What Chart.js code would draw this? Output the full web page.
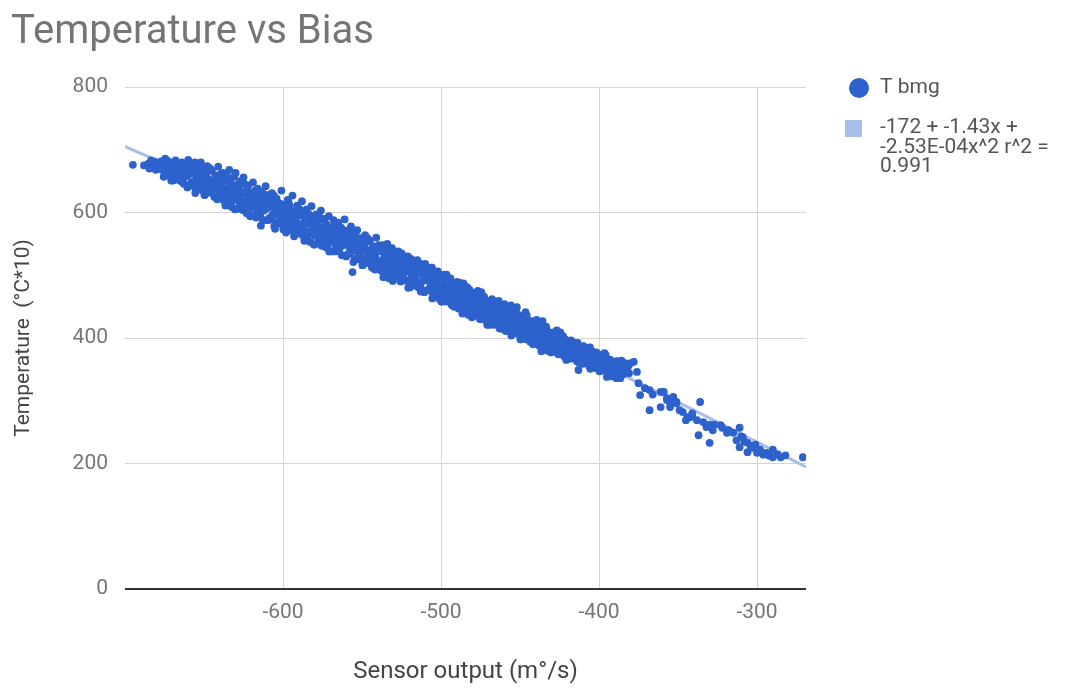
<!DOCTYPE html>
<html>
<head>
<meta charset="utf-8">
<title>Temperature vs Bias</title>
<script src="https://cdn.jsdelivr.net/npm/chart.js@4.4.1/dist/chart.umd.min.js"></script>
<style>
  html, body { margin: 0; padding: 0; background: #fff; }
  #wrap { width: 1088px; height: 688px; }
</style>
</head>
<body>
<div id="wrap"><canvas id="chart" width="1088" height="688"></canvas></div>
<script>
const chartTitle = "Temperature vs Bias";
const xAxisTitle = "Sensor output (m°/s)";
const yAxisTitle = "Temperature  (°C*10)";
const xTicks = [-600, -500, -400, -300];
const yTicks = [0, 200, 400, 600, 800];
const xMin = -700;
const xMax = -269;

const seriesName = "T bmg";
// polynomial fit: c0 + c1*x + c2*x^2
const trendCoef = [-172, -1.43, -2.53e-4];
const trendLabel = ["-172 + -1.43x +", "-2.53E-04x^2 r^2 =", "0.991"];

// sensor output (m°/s), temperature (°C*10)
const bmgPoints = [
  [-695,676],[-688,675],[-685,678],[-683,674],[-681,680],[-680,672],[-678,677],[-677,669],[-675,681],[-674,674],
  [-673,666],[-671,679],[-670,670],[-669,660],[-668,683],[-667,675],[-666,652],[-665,664],[-664,680],[-663,647],
  [-662,671],[-661,658],[-660,684],[-659,666],[-658,648],[-657,676],[-656,641],[-655,660],[-654,671],[-653,650],
  [-652,680],[-651,638],[-650,663],[-649,655],[-648,674],[-647,644],[-646,632],[-645,667],[-644,650],[-643,659],
  [-642,639],[-641,673],[-640,628],[-639,646],[-638,663],[-637,619],[-636,652],[-635,636],[-634,668],[-633,612],
  [-632,644],[-631,657],[-630,663],[-630,626],[-629,606],[-628,638],[-627,650],[-626,617],[-625,656],[-624,631],
  [-623,599],[-622,643],[-621,620],[-620,609],[-619,648],[-618,627],[-617,592],[-616,638],[-615,614],[-614,579],
  [-613,631],[-612,603],[-611,642],[-610,620],[-609,588],[-608,610],[-607,631],[-606,597],[-605,574],[-604,622],
  [-603,604],[-602,587],[-601,635],[-600,612],[-599,594],[-598,568],[-597,620],[-596,581],[-595,603],[-594,627],
  [-593,562],[-592,591],[-591,611],[-590,575],[-589,600],[-588,618],[-587,584],[-586,556],[-585,605],[-584,566],
  [-583,592],[-582,610],[-581,576],[-580,549],[-579,597],[-578,583],[-577,560],[-576,603],[-575,570],[-574,589],
  [-573,545],[-572,579],[-571,594],[-570,556],[-569,574],[-568,588],[-567,538],[-566,565],[-565,584],[-564,550],
  [-563,575],[-562,560],[-561,589],[-560,530],[-559,566],[-558,545],[-557,578],[-556,505],[-556,556],[-555,540],
  [-554,569],[-553,572],[-552,533],[-551,559],[-550,548],[-549,521],[-548,564],[-547,540],[-546,529],[-545,555],
  [-544,514],[-543,546],[-542,533],[-541,560],[-540,520],[-539,541],[-538,508],[-537,548],[-536,528],[-535,515],
  [-534,550],[-533,536],[-532,503],[-531,543],[-530,521],[-529,532],[-528,498],[-527,538],[-526,512],[-525,535],
  [-524,526],[-523,492],[-522,518],[-521,530],[-520,505],[-519,526],[-518,486],[-517,515],[-516,498],[-515,524],
  [-514,507],[-513,481],[-512,513],[-511,494],[-510,518],[-509,476],[-508,502],[-507,489],[-506,512],[-505,470],
  [-504,496],[-503,483],[-502,506],[-501,462],[-500,490],[-499,476],[-498,501],[-497,458],[-496,484],[-495,469],
  [-494,495],[-493,452],[-492,478],[-491,464],[-490,489],[-489,447],[-488,488],[-487,472],[-486,458],[-485,480],
  [-484,441],[-483,466],[-482,477],[-481,451],[-480,462],[-479,436],[-478,470],[-477,447],[-476,457],[-475,430],
  [-474,468],[-473,441],[-472,452],[-471,426],[-470,459],[-469,437],[-468,447],[-467,421],[-466,455],[-465,432],
  [-464,442],[-463,416],[-462,449],[-461,427],[-460,437],[-459,411],[-458,443],[-457,422],[-456,432],[-455,407],
  [-454,438],[-453,417],[-452,449],[-451,426],[-450,403],[-449,433],[-448,412],[-447,420],[-446,398],[-445,428],
  [-444,407],[-443,415],[-442,393],[-441,423],[-440,402],[-439,410],[-438,388],[-437,418],[-436,397],[-435,405],
  [-434,384],[-433,412],[-432,392],[-431,400],[-430,379],[-429,407],[-428,388],[-427,395],[-426,375],[-425,402],
  [-424,383],[-423,390],[-422,371],[-421,397],[-420,378],[-419,386],[-418,367],[-417,392],[-416,374],[-415,381],
  [-414,363],[-413,349],[-413,387],[-412,370],[-411,376],[-410,359],[-409,382],[-408,365],[-407,372],[-406,355],
  [-405,378],[-404,361],[-403,368],[-402,352],[-401,374],[-400,357],[-399,364],[-398,348],[-397,370],[-396,353],
  [-395,338],[-395,360],[-394,366],[-393,349],[-392,356],[-391,362],[-390,345],[-389,336],[-389,352],[-388,358],
  [-387,347],[-386,354],[-385,342],[-384,357],[-383,350],[-381,344],[-380,360],[-378,362],[-376,346],[-375,328],
  [-374,309],[-371,320],[-368,317],[-368,285],[-366,310],[-361,314],[-361,290],[-359,314],[-357,304],[-357,301],
  [-355,296],[-355,290],[-353,306],[-353,301],[-351,298],[-351,296],[-349,285],[-347,282],[-345,269],[-344,274],
  [-342,274],[-341,277],[-341,280],[-338,269],[-337,245],[-336,298],[-334,266],[-332,258],[-330,233],[-330,262],
  [-328,253],[-327,262],[-323,261],[-322,257],[-319,249],[-318,253],[-315,249],[-313,237],[-311,257],[-311,226],
  [-310,243],[-309,242],[-308,235],[-306,233],[-306,218],[-304,228],[-303,225],[-301,230],[-300,217],[-298,222],
  [-296,214],[-294,217],[-292,212],[-290,222],[-290,210],[-287,215],[-285,210],[-282,213],[-271,210],
  [-685.5,677],[-684.5,670],[-683.5,683],[-682.5,674],[-681.5,681],[-680.5,668],[-679.5,674],[-678.5,680],[-677.5,670],[-676.5,677],
  [-675.5,657],[-674.5,686],[-673.5,668],[-672.5,679],[-671.5,658],[-670.5,671],[-669.5,651],[-668.5,673],[-667.5,665],[-666.5,657],
  [-665.5,675],[-664.5,650],[-663.5,677],[-662.5,657],[-661.5,666],[-660.5,640],[-659.5,661],[-658.5,674],[-657.5,644],[-656.5,662],
  [-655.5,631],[-654.5,673],[-653.5,650],[-652.5,663],[-651.5,636],[-650.5,655],[-649.5,628],[-648.5,665],[-647.5,639],[-646.5,671],
  [-645.5,632],[-644.5,647],[-643.5,625],[-642.5,651],[-641.5,641],[-640.5,630],[-639.5,661],[-638.5,631],[-637.5,651],[-636.5,611],
  [-635.5,639],[-634.5,617],[-633.5,653],[-632.5,625],[-631.5,643],[-630.5,605],[-629.5,627],[-628.5,645],[-627.5,615],[-626.5,633],
  [-625.5,604],[-624.5,646],[-623.5,618],[-622.5,635],[-621.5,605],[-620.5,624],[-619.5,595],[-618.5,627],[-617.5,616],[-616.5,604],
  [-615.5,631],[-614.5,595],[-613.5,633],[-612.5,604],[-611.5,618],[-610.5,588],[-609.5,608],[-608.5,620],[-607.5,591],[-606.5,609],
  [-605.5,578],[-604.5,620],[-603.5,597],[-602.5,610],[-601.5,582],[-600.5,600],[-599.5,573],[-598.5,610],[-597.5,584],[-596.5,616],
  [-595.5,577],[-594.5,592],[-593.5,570],[-592.5,595],[-591.5,585],[-590.5,574],[-589.5,605],[-588.5,575],[-587.5,595],[-586.5,555],
  [-585.5,582],[-584.5,560],[-583.5,597],[-582.5,569],[-581.5,587],[-580.5,549],[-579.5,571],[-578.5,589],[-577.5,558],[-576.5,576],
  [-575.5,547],[-574.5,590],[-573.5,562],[-572.5,579],[-571.5,549],[-570.5,567],[-569.5,538],[-568.5,570],[-567.5,559],[-566.5,548],
  [-565.5,575],[-564.5,539],[-563.5,576],[-562.5,547],[-561.5,561],[-560.5,531],[-559.5,551],[-558.5,564],[-557.5,535],[-556.5,552],
  [-555.5,521],[-554.5,563],[-553.5,540],[-552.5,553],[-551.5,525],[-550.5,544],[-549.5,516],[-548.5,553],[-547.5,527],[-546.5,559],
  [-545.5,520],[-544.5,535],[-543.5,512],[-542.5,538],[-541.5,528],[-540.5,517],[-539.5,548],[-538.5,518],[-537.5,538],[-536.5,497],
  [-535.5,525],[-534.5,503],[-533.5,540],[-532.5,512],[-531.5,530],[-530.5,491],[-529.5,513],[-528.5,531],[-527.5,501],[-526.5,519],
  [-525.5,490],[-524.5,532],[-523.5,504],[-522.5,521],[-521.5,491],[-520.5,510],[-519.5,481],[-518.5,512],[-517.5,501],[-516.5,490],
  [-515.5,517],[-514.5,481],[-513.5,519],[-512.5,489],[-511.5,503],[-510.5,473],[-509.5,493],[-508.5,506],[-507.5,477],[-506.5,494],
  [-505.5,463],[-504.5,505],[-503.5,482],[-502.5,495],[-501.5,466],[-500.5,485],[-499.5,458],[-498.5,495],[-497.5,469],[-496.5,501],
  [-495.5,461],[-494.5,476],[-493.5,454],[-492.5,480],[-491.5,470],[-490.5,459],[-489.5,489],[-488.5,459],[-487.5,479],[-486.5,439],
  [-485.5,467],[-484.5,444],[-483.5,481],[-482.5,453],[-481.5,471],[-480.5,433],[-479.5,454],[-478.5,472],[-477.5,442],[-476.5,460],
  [-475.5,431],[-474.5,473],[-473.5,445],[-472.5,462],[-471.5,432],[-470.5,451],[-469.5,421],[-468.5,453],[-467.5,442],[-466.5,431],
  [-465.5,458],[-464.5,421],[-463.5,459],[-462.5,430],[-461.5,444],[-460.5,414],[-459.5,433],[-458.5,446],[-457.5,417],[-456.5,435],
  [-455.5,404],[-454.5,445],[-453.5,422],[-452.5,435],[-451.5,407],[-450.5,426],[-449.5,398],[-448.5,435],[-447.5,409],[-446.5,441],
  [-445.5,402],[-444.5,416],[-443.5,394],[-442.5,420],[-441.5,410],[-440.5,399],[-439.5,429],[-438.5,399],[-437.5,419],[-436.5,379],
  [-435.5,407],[-434.5,387],[-433.5,418],[-432.5,394],[-431.5,409],[-430.5,377],[-429.5,394],[-428.5,409],[-427.5,384],[-426.5,399],
  [-425.5,374],[-424.5,409],[-423.5,385],[-422.5,400],[-421.5,374],[-420.5,390],[-419.5,368],[-418.5,390],[-417.5,382],[-416.5,374],
  [-415.5,392],[-414.5,366],[-413.5,392],[-412.5,371],[-411.5,381],[-410.5,360],[-409.5,372],[-408.5,381],[-407.5,361],[-406.5,373],
  [-405.5,351],[-404.5,379],[-403.5,363],[-402.5,371],[-401.5,352],[-400.5,367],[-399.5,347],[-398.5,373],[-397.5,354],[-396.5,376],
  [-395.5,349],[-394.5,358],[-393.5,342],[-392.5,360],[-391.5,353],[-390.5,347],[-389.5,362],[-388.5,346],[-387.5,356],[-386.5,336],
  [-385.5,349],[-384.5,352],[-383.5,360],[-382.5,348],[-381.5,355],
  [-679.75,672],[-678.75,679],[-677.75,673],[-676.75,682],[-675.75,667],[-674.75,676],[-673.75,661],[-672.75,682],[-671.75,669],[-670.75,651],
  [-669.75,674],[-668.75,662],[-667.75,679],[-666.75,653],[-665.75,666],[-664.75,654],[-663.75,672],[-662.75,646],[-661.75,666],[-660.75,659],
  [-659.75,681],[-658.75,644],[-657.75,669],[-656.75,649],[-655.75,680],[-654.75,637],[-653.75,657],[-652.75,641],[-651.75,669],[-650.75,647],
  [-649.75,628],[-648.75,662],[-647.75,654],[-646.75,632],[-645.75,667],[-644.75,635],[-643.75,643],[-642.75,657],[-641.75,621],[-640.75,650],
  [-639.75,635],[-638.75,658],[-637.75,620],[-636.75,638],[-635.75,659],[-634.75,626],[-633.75,641],[-632.75,609],[-631.75,636],[-630.75,627],
  [-629.75,620],[-628.75,641],[-627.75,624],[-626.75,648],[-625.75,605],[-624.75,630],[-623.75,609],[-622.75,639],[-621.75,621],[-620.75,594],
  [-619.75,628],[-618.75,610],[-617.75,635],[-616.75,598],[-615.75,617],[-614.75,601],[-613.75,627],[-612.75,588],[-611.75,617],[-610.75,606],
  [-609.75,628],[-608.75,591],[-607.75,616],[-606.75,596],[-605.75,627],[-604.75,583],[-603.75,602],[-602.75,586],[-601.75,614],[-600.75,592],
  [-599.75,573],[-598.75,607],[-597.75,599],[-596.75,577],[-595.75,611],[-594.75,579],[-593.75,588],[-592.75,602],[-591.75,566],[-590.75,595],
  [-589.75,579],[-588.75,601],[-587.75,564],[-586.75,582],[-585.75,603],[-584.75,570],[-583.75,585],[-582.75,553],[-581.75,580],[-580.75,570],
  [-579.75,563],[-578.75,585],[-577.75,568],[-576.75,592],[-575.75,549],[-574.75,574],[-573.75,552],[-572.75,582],[-571.75,564],[-570.75,538],
  [-569.75,572],[-568.75,554],[-567.75,579],[-566.75,541],[-565.75,560],[-564.75,544],[-563.75,570],[-562.75,532],[-561.75,561],[-560.75,550],
  [-559.75,571],[-558.75,534],[-557.75,559],[-556.75,539],[-555.75,570],[-554.75,526],[-553.75,546],[-552.75,529],[-551.75,557],[-550.75,535],
  [-549.75,516],[-548.75,550],[-547.75,542],[-546.75,520],[-545.75,554],[-544.75,522],[-543.75,531],[-542.75,545],[-541.75,509],[-540.75,538],
  [-539.75,521],[-538.75,544],[-537.75,507],[-536.75,525],[-535.75,546],[-534.75,513],[-533.75,527],[-532.75,495],[-531.75,522],[-530.75,513],
  [-529.75,506],[-528.75,528],[-527.75,510],[-526.75,534],[-525.75,491],[-524.75,516],[-523.75,495],[-522.75,525],[-521.75,507],[-520.75,480],
  [-519.75,514],[-518.75,496],[-517.75,521],[-516.75,484],[-515.75,503],[-514.75,486],[-513.75,512],[-512.75,474],[-511.75,503],[-510.75,492],
  [-509.75,514],[-508.75,476],[-507.75,501],[-506.75,481],[-505.75,512],[-504.75,468],[-503.75,488],[-502.75,471],[-501.75,499],[-500.75,477],
  [-499.75,458],[-498.75,492],[-497.75,483],[-496.75,461],[-495.75,496],[-494.75,464],[-493.75,473],[-492.75,487],[-491.75,450],[-490.75,479],
  [-489.75,463],[-488.75,486],[-487.75,449],[-486.75,466],[-485.75,487],[-484.75,454],[-483.75,469],[-482.75,437],[-481.75,463],[-480.75,454],
  [-479.75,447],[-478.75,469],[-477.75,452],[-476.75,475],[-475.75,432],[-474.75,457],[-473.75,436],[-472.75,466],[-471.75,447],[-470.75,421],
  [-469.75,455],[-468.75,437],[-467.75,462],[-466.75,424],[-465.75,443],[-464.75,427],[-463.75,453],[-462.75,415],[-461.75,443],[-460.75,432],
  [-459.75,454],[-458.75,417],[-457.75,442],[-456.75,421],[-455.75,452],[-454.75,408],[-453.75,428],[-452.75,412],[-451.75,439],[-450.75,417],
  [-449.75,398],[-448.75,432],[-447.75,424],[-446.75,401],[-445.75,436],[-444.75,404],[-443.75,413],[-442.75,427],[-441.75,390],[-440.75,419],
  [-439.75,403],[-438.75,426],[-437.75,389],[-436.75,406],[-435.75,427],[-434.75,395],[-433.75,408],[-432.75,380],[-431.75,402],[-430.75,394],
  [-429.75,388],[-428.75,407],[-427.75,392],[-426.75,412],[-425.75,375],[-424.75,396],[-423.75,378],[-422.75,403],[-421.75,387],[-420.75,365],
  [-419.75,392],[-418.75,379],[-417.75,396],[-416.75,369],[-415.75,382],[-414.75,370],[-413.75,388],[-412.75,361],[-411.75,380],[-410.75,372],
  [-409.75,387],[-408.75,361],[-407.75,378],[-406.75,364],[-405.75,385],[-404.75,355],[-403.75,369],[-402.75,358],[-401.75,377],[-400.75,361],
  [-399.75,348],[-398.75,371],[-397.75,365],[-396.75,349],[-395.75,373],[-394.75,350],[-393.75,356],[-392.75,365],[-391.75,339],[-390.75,359],
  [-389.75,348],[-388.75,363],[-387.75,337],[-386.75,349],[-385.75,364]
];

// sample x positions for the fitted curve
const trendX = [];
for (let x = xMin; x <= xMax; x += 10) trendX.push(x);
trendX.push(xMax);

const trendPoints = trendX.map((x) => ({
  x: x,
  y: trendCoef[0] + trendCoef[1] * x + trendCoef[2] * x * x,
}));

const FONT = "Roboto";

// draws the legend to the right of the plot
const sideLegend = {
  id: "sideLegend",
  afterDraw(chart) {
    const ctx = chart.ctx;
    ctx.save();
    ctx.fillStyle = "#2d62cd";
    ctx.beginPath();
    ctx.arc(859, 88, 10, 0, Math.PI * 2);
    ctx.fill();

    ctx.fillStyle = "#a9bde9";
    ctx.fillRect(845, 120, 17, 17);

    ctx.fillStyle = "#555";
    ctx.font = "21px " + FONT;
    ctx.textBaseline = "middle";
    ctx.textAlign = "left";
    ctx.fillText(seriesName, 880, 88);
    trendLabel.forEach((line, i) => {
      ctx.fillText(line, 880, 128 + i * 19.5);
    });
    ctx.restore();
  },
};

const config = {
  type: "scatter",
  data: {
    datasets: [
      {
        label: seriesName,
        data: bmgPoints.map(([x, y]) => ({ x, y })),
        backgroundColor: "#2d62cd",
        borderWidth: 0,
        pointRadius: 3.9,
        pointHoverRadius: 3.9,
        order: 1,
      },
      {
        type: "line",
        label: "trend",
        data: trendPoints,
        borderColor: "#a9bde9",
        borderWidth: 3,
        pointRadius: 0,
        fill: false,
        tension: 0,
        order: 2,
      },
    ],
  },
  options: {
    responsive: false,
    animation: false,
    layout: { padding: { left: 11, right: 282, top: 0, bottom: 0 } },
    plugins: {
      legend: { display: false },
      tooltip: { enabled: false },
      title: {
        display: true,
        text: chartTitle,
        align: "start",
        color: "#757575",
        font: { family: FONT, size: 40, weight: "normal" },
        padding: { top: 8.5, bottom: 30.5 },
      },
    },
    scales: {
      x: {
        type: "linear",
        min: xMin,
        max: xMax,
        afterBuildTicks: (scale) => {
          scale.ticks = xTicks.map((v) => ({ value: v }));
        },
        afterFit: (scale) => {
          scale.height = 99;
        },
        grid: { color: "#d4d4d4", drawTicks: false },
        border: { display: false },
        ticks: {
          color: "#757575",
          padding: 11,
          font: { family: FONT, size: 21 },
        },
        title: {
          display: true,
          text: xAxisTitle,
          color: "#444",
          font: { family: FONT, size: 24 },
          padding: { top: 0, bottom: 2 },
        },
      },
      y: {
        min: 0,
        max: 800,
        afterBuildTicks: (scale) => {
          scale.ticks = yTicks.map((v) => ({ value: v }));
        },
        afterFit: (scale) => {
          scale.width = 114;
        },
        grid: {
          drawTicks: false,
          color: (c) => (c.tick && c.tick.value === 0 ? "#333" : "#d4d4d4"),
          lineWidth: (c) => (c.tick && c.tick.value === 0 ? 2 : 1),
        },
        border: { display: false },
        ticks: {
          color: "#757575",
          padding: 17,
          font: { family: FONT, size: 21 },
        },
        title: {
          display: true,
          text: yAxisTitle,
          color: "#444",
          font: { family: FONT, size: 21 },
          padding: { top: 0, bottom: 0 },
        },
      },
    },
  },
  plugins: [sideLegend],
};

new Chart(document.getElementById("chart"), config);
</script>
</body>
</html>
